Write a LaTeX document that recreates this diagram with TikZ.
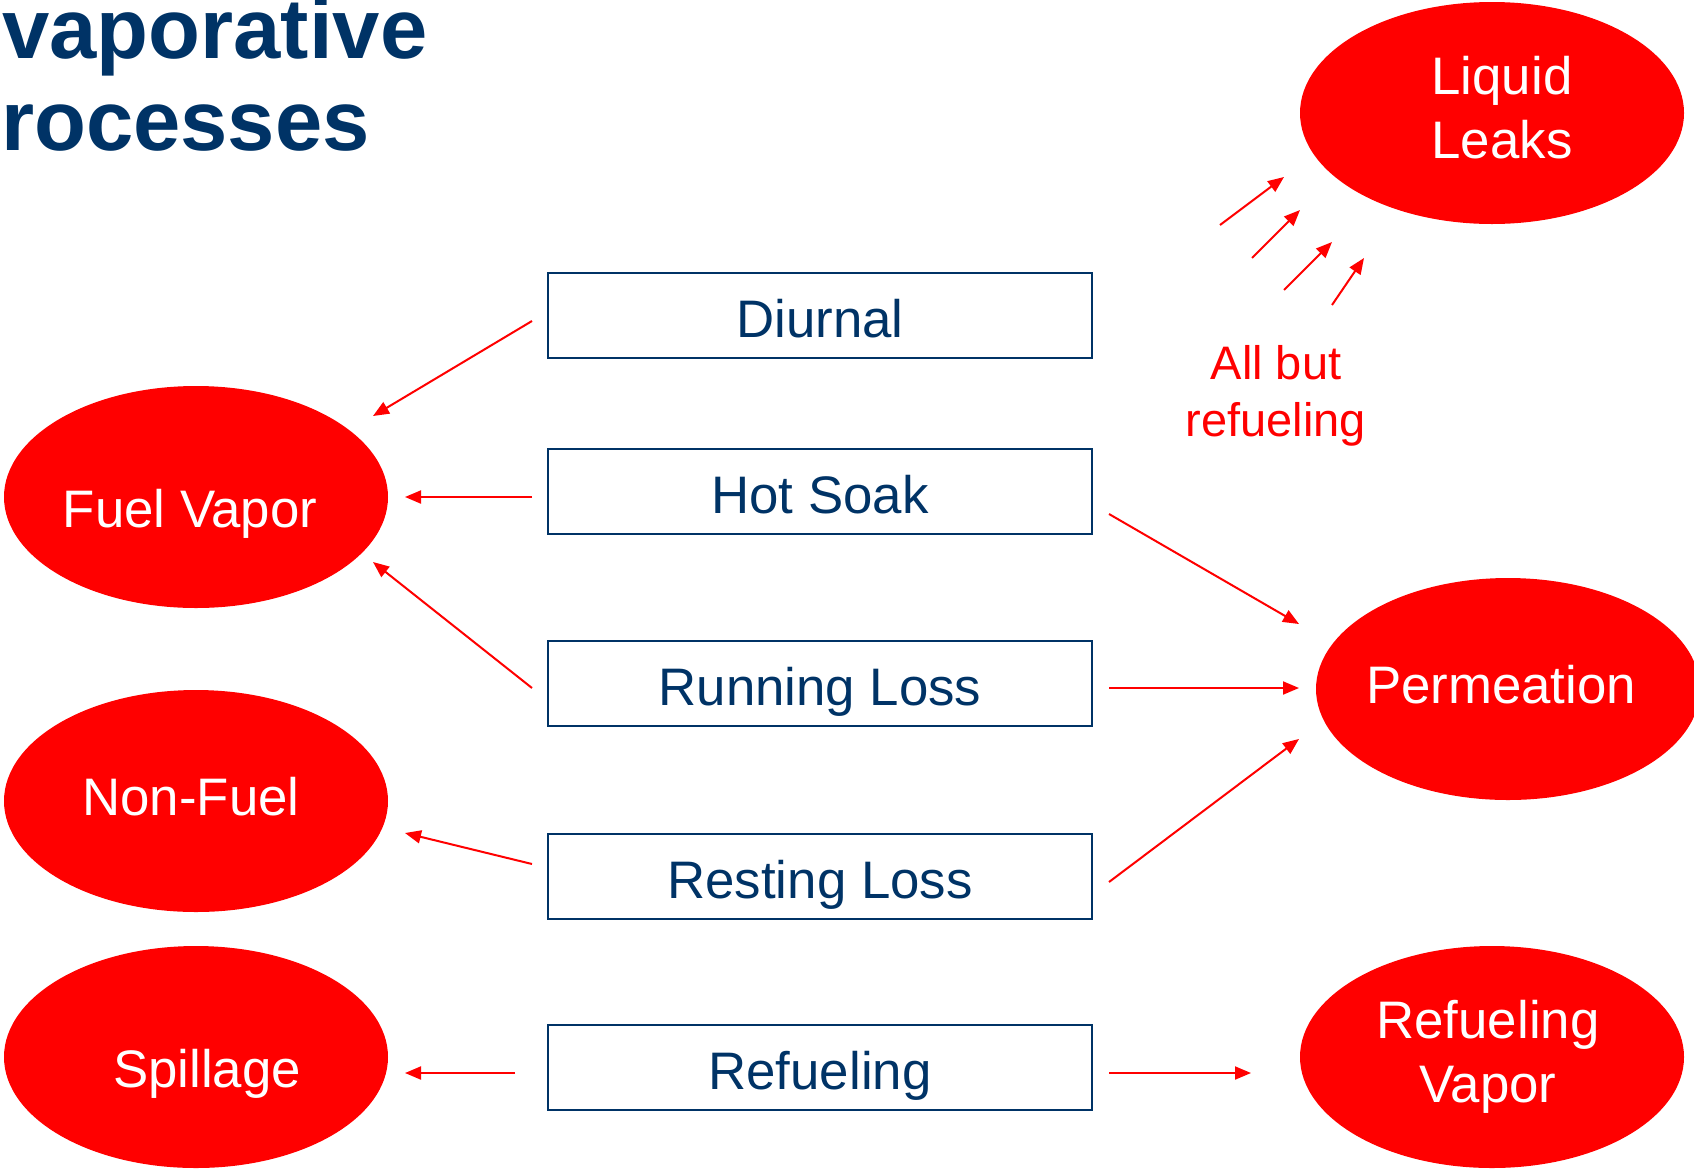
\documentclass[tikz,border=0pt]{standalone}
\usepackage{fontspec}
\setmainfont{Liberation Sans}
\usetikzlibrary{shapes.geometric,arrows.meta,calc}
\definecolor{navy}{RGB}{0,51,102}
\definecolor{myred}{RGB}{255,0,0}
\begin{document}
\begin{tikzpicture}[x=1pt,y=-1pt,
  blob/.style={ellipse, fill=myred, draw=none, minimum width=384pt, minimum height=222pt, inner sep=0pt},
  blobtext/.style={anchor=base, inner sep=0pt, text=white, font=\fontsize{52.8}{64}\selectfont, align=center},
  procbox/.style={rectangle, draw=navy, line width=2pt, minimum width=544pt, minimum height=85pt,
    inner sep=0pt, text height=46pt, text depth=2pt, text=navy, font=\fontsize{52.8}{63}\selectfont},
  arr/.style={draw=myred, line width=2pt, -{Triangle[length=16pt,width=13pt]}},
  titletext/.style={anchor=base west, inner sep=0pt, text=navy, font=\fontsize{85}{92}\selectfont\bfseries}]
\useasboundingbox (0,0) rectangle (1694,1168);

% title
\node[titletext] (t1) at (2,58) {vaporative};
\node[titletext] (t2) at (1,150) {rocesses};

% ellipses
\node[blob] (leaks) at (1492,113) {};
\node[blob] (fuel) at (196,497) {};
\node[blob] (nonfuel) at (196,801) {};
\node[blob] (spill) at (196,1057) {};
\node[blob] (perm) at (1508,689) {};
\node[blob] (rvap) at (1492,1057) {};

% ellipse texts (base anchor = baseline of the last line)
\node[blobtext] (leaksT) at ($(leaks.center)+(10,45)$) {Liquid\\Leaks};
\node[blobtext] (fuelT) at ($(fuel.center)+(-6,30)$) {Fuel Vapor};
\node[blobtext] (nonfuelT) at ($(nonfuel.center)+(-5,14)$) {Non-Fuel};
\node[blobtext] (spillT) at ($(spill.center)+(11,30)$) {Spillage};
\node[blobtext] (permT) at ($(perm.center)+(-7,14)$) {Permeation};
\node[blobtext] (rvapT) at ($(rvap.center)+(-4,45)$) {Refueling\\Vapor};

% boxes
\node[procbox] (diurnal) at (820,315) {Diurnal};
\node[procbox] (hot) at (820,491) {Hot Soak};
\node[procbox] (run) at (820,683) {Running Loss};
\node[procbox] (rest) at (820,876) {Resting Loss};
\node[procbox] (refuel) at (820,1067) {Refueling};

% label
\node[text=myred, font=\fontsize{47}{57}\selectfont, align=center, inner sep=0pt] (allbut) at (1276,396) {All but\\refueling};

% arrows to left
\draw[arr] ($(diurnal.west)+(-15,6)$) -- ($(fuel.center)+(177,-81)$);
\draw[arr] ($(hot.west)+(-15,6)$) -- ($(fuel.center)+(209,0)$);
\draw[arr] ($(run.west)+(-15,5)$) -- ($(fuel.center)+(177,65)$);
\draw[arr] ($(rest.west)+(-15,-12)$) -- ($(nonfuel.center)+(209,32)$);
\draw[arr] ($(refuel.west)+(-32,6)$) -- ($(spill.center)+(209,16)$);

% arrows to right
\draw[arr] ($(hot.east)+(16,23)$) -- ($(perm.center)+(-209,-65)$);
\draw[arr] ($(run.east)+(16,5)$) -- ($(perm.center)+(-209,-1)$);
\draw[arr] ($(rest.east)+(16,6)$) -- ($(perm.center)+(-209,50)$);
\draw[arr] ($(refuel.east)+(16,6)$) -- ($(rvap.center)+(-241,16)$);

% small arrows towards liquid leaks
\coordinate (s1) at (1220,225); \coordinate (e1) at (1284,177);
\coordinate (s2) at (1252,258); \coordinate (e2) at (1300,210);
\coordinate (s3) at (1284,290); \coordinate (e3) at (1332,242);
\coordinate (s4) at (1332,305); \coordinate (e4) at (1364,258);
\draw[arr] (s1) -- (e1);
\draw[arr] (s2) -- (e2);
\draw[arr] (s3) -- (e3);
\draw[arr] (s4) -- (e4);
\end{tikzpicture}
\end{document}
